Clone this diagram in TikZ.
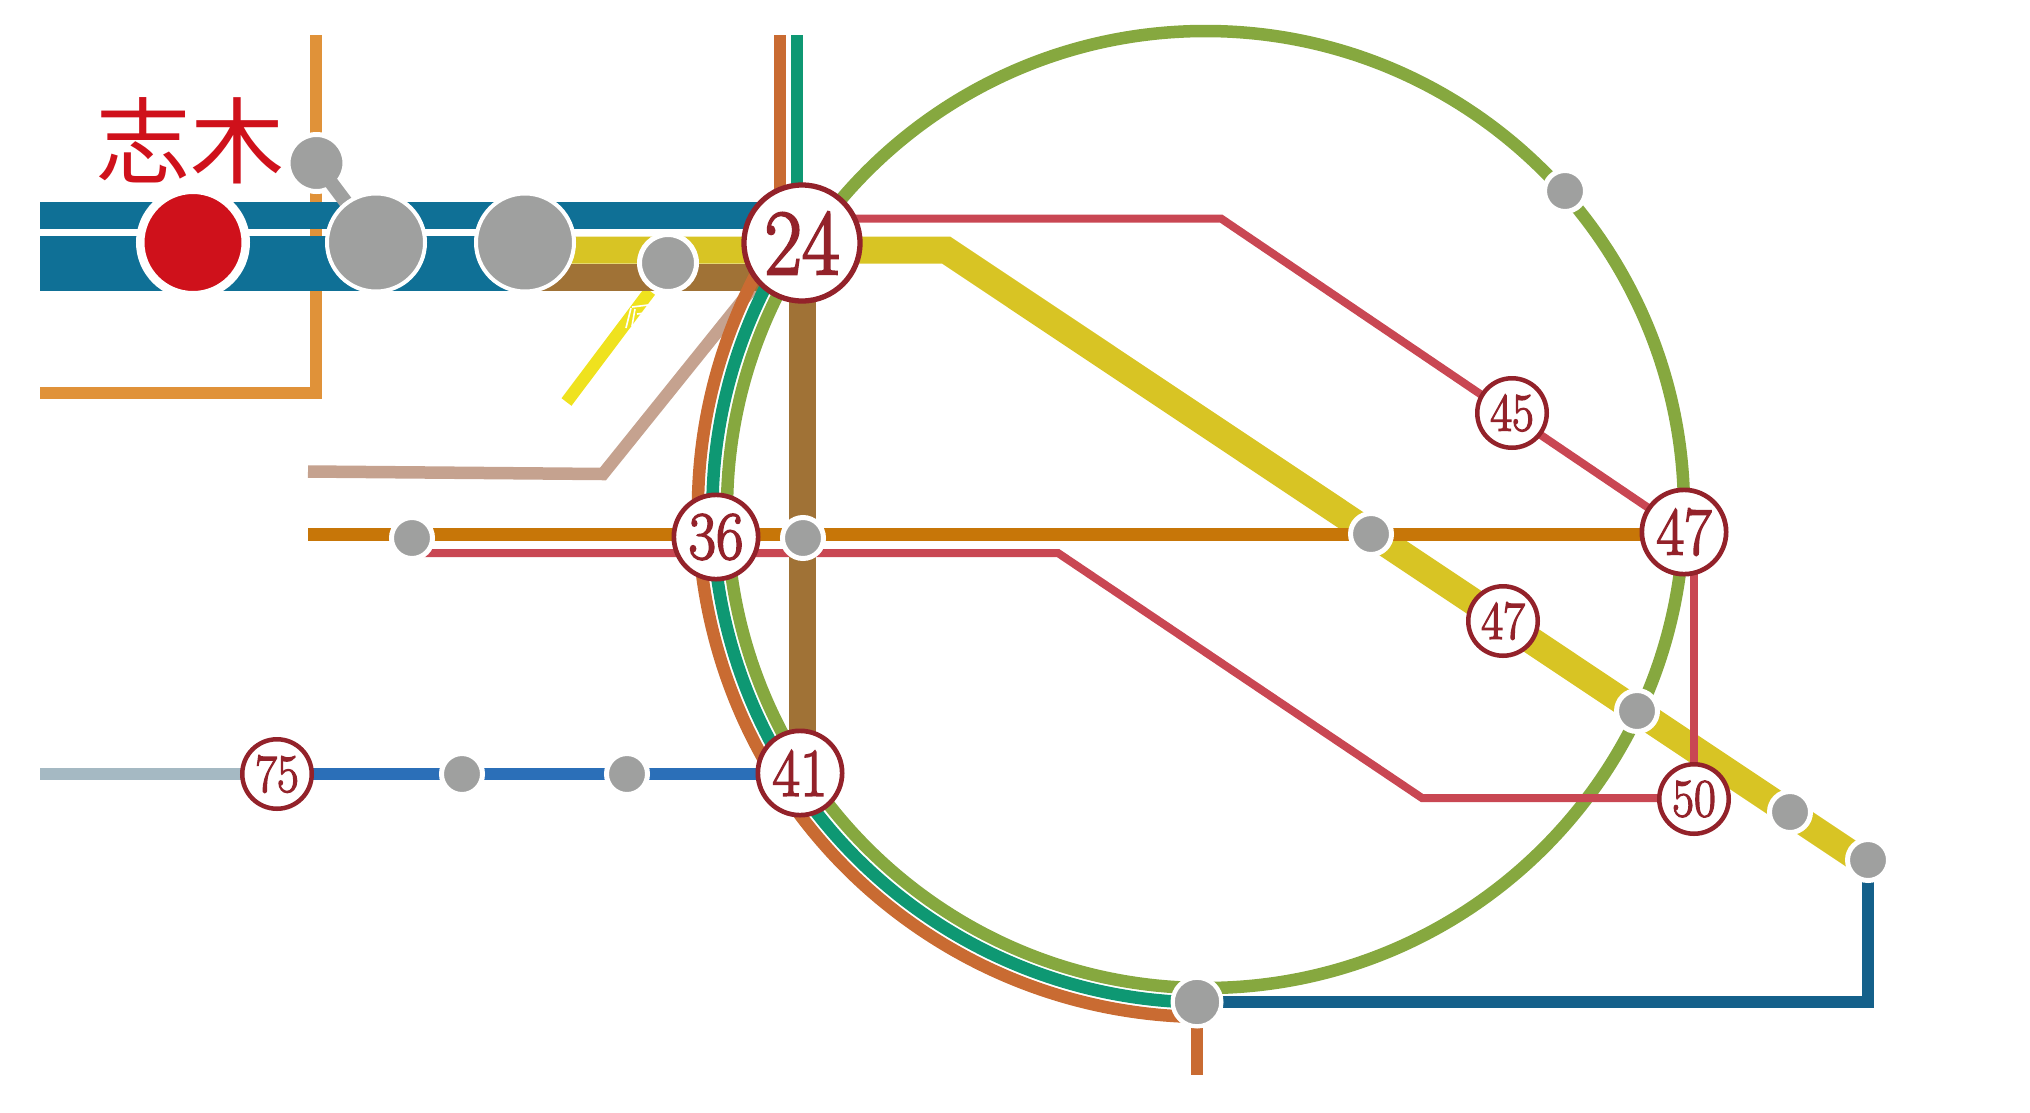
\documentclass[tikz,border=0pt]{standalone}
\usepackage{fontspec}
\newfontfamily\cjk{Noto Sans CJK JP}
\newfontfamily\numf[FakeBold=2.5]{LMRoman8-Regular}
\usetikzlibrary{backgrounds}
\definecolor{bandblue}{HTML}{0F7096}
\definecolor{brownl}{HTML}{A07236}
\definecolor{yellowl}{HTML}{D8C424}
\definecolor{orangel}{HTML}{E09239}
\definecolor{greenl}{HTML}{86A83F}
\definecolor{teall}{HTML}{0E9873}
\definecolor{rustl}{HTML}{C96B32}
\definecolor{pinkl}{HTML}{C94753}
\definecolor{amberl}{HTML}{C77608}
\definecolor{tanl}{HTML}{C5A28F}
\definecolor{brightl}{HTML}{EFE21E}
\definecolor{bluel}{HTML}{2B6FB8}
\definecolor{paleb}{HTML}{A5B9C3}
\definecolor{navyl}{HTML}{14608A}
\definecolor{greyst}{HTML}{9FA09F}
\definecolor{darkred}{HTML}{93222A}
\definecolor{redst}{HTML}{CF111B}
\newcommand{\dg}[1]{\scalebox{0.88}[1]{\numf #1}}
\tikzset{
  x=1pt,y=-1pt,
  stn/.style={circle,inner sep=0pt,outer sep=0pt,fill=greyst,draw=white,line width=5pt,minimum size=41pt},
  stnm/.style={stn,minimum size=57pt},
  stnb/.style={stn,line width=4pt,minimum size=98pt},
  stnbot/.style={stn,line width=4.3pt,minimum size=48.7pt},
  stnred/.style={stn,fill=redst,line width=8.5pt,minimum size=105.5pt},
  num/.style={circle,inner sep=0pt,outer sep=0pt,fill=white,draw=darkred,text=darkred},
  numl/.style={num,line width=5.3pt,minimum size=116pt,font=\fontsize{93}{93}\selectfont},
  numm/.style={num,line width=4.7pt,minimum size=84.3pt,font=\fontsize{68}{68}\selectfont},
  nums/.style={num,line width=4.5pt,minimum size=69.5pt,font=\fontsize{54}{54}\selectfont},
  rail/.style={line width=12.5pt,line cap=butt,line join=miter},
  thin rail/.style={line width=8pt,line cap=butt,line join=miter},
  fat rail/.style={line width=27pt,line cap=butt,line join=miter},
}
\begin{document}
\begin{tikzpicture}
\useasboundingbox (0,0) rectangle (2030,1112);
% stations
\node[stnred] (shiki) at (193,242.5) {};
\node[stnb] (b1) at (376,242.5) {};
\node[stnb] (b2) at (525,242.5) {};
\node[stnm] (m1) at (668,263) {};
\node[numl] (n24) at (802,243) {\dg{24}};
\node[numm] (n36) at (716,537) {\dg{36}};
\node[numm] (n41) at (800,773) {\dg{41}};
\node[numm] (n47a) at (1684,532) {\dg{47}};
\node[nums] (n45) at (1512,413) {\dg{45}};
\node[nums] (n47b) at (1503,621) {\dg{47}};
\node[nums] (n50) at (1694,799) {\dg{50}};
\node[nums] (n75) at (277,774) {\dg{75}};
\node[stn] (g1) at (412,538) {};
\node[stn] (g2) at (803,538) {};
\node[stn] (g3) at (1371,534) {};
\node[stn] (g4) at (1565,191) {};
\node[stn] (g5) at (1637,711) {};
\node[stn] (g6) at (1790,812) {};
\node[stn] (g7) at (1868,860) {};
\node[stn] (g8) at (462,774) {};
\node[stn] (g9) at (627,774) {};
\node[stnbot] (g10) at (1197,1002) {};
\node[text=redst,font=\cjk\fontsize{94}{94}\selectfont,inner sep=0pt,anchor=center] (name) at (190.5,141) {志木};
% free ends and bends
\coordinate (c) at (1205.5,509.5);
\coordinate (oT) at (316,35);
\coordinate (oC) at (316,393);
\coordinate (oL) at (40,393);
\coordinate (bandA) at (40,215);
\coordinate (bandAe) at (770,215);
\coordinate (bandB) at (40,263);
\coordinate (bandBe) at (525,263);
\coordinate (yS) at (525,250);
\coordinate (yB) at (946,250);
\coordinate (yE) at (1868,865);
\coordinate (brS) at (525,277);
\coordinate (brB) at (802,277);
\coordinate (tanL) at (308,471.5);
\coordinate (tanB) at (603,474);
\coordinate (tanE) at (755,285);
\coordinate (brE) at (566.5,402);
\coordinate (brT) at (650,291);
\coordinate (pB1) at (1221,218.5);
\coordinate (pB2) at (1058,553);
\coordinate (pB3) at (1422,798);
\coordinate (amL) at (308,534.5);
\coordinate (palL) at (40,774);
\coordinate (rustT) at (780,35);
\coordinate (tealT) at (797,35);
\coordinate (rustB) at (1197,1075);
\begin{scope}[on background layer]
  \draw[rail,orangel] (oT) -- (oC) -- (oL);
  \draw[line width=27pt,bandblue] (bandA) -- (bandAe);
  \draw[line width=55pt,bandblue] (bandB) -- (bandBe);
  \draw[rail,tanl] (tanL) -- (tanB) -- (tanE);
  \draw[rail,brightl] (brE) -- (brT);
  \draw[white,line width=1.6pt] (631,308) -- (626,328) (635,309) -- (632,326) (632,307) -- (648,305) (637,314) -- (645,313) (637,320) -- (642,319);
  \draw[fat rail,yellowl] (yS) -- (yB) -- (yE);
  \draw[fat rail,brownl] (brS) -- (brB) -- (brB |- n41.center);
  \draw[rail,rustl] (rustT) -- ++(0,240);
  \draw[rail,teall] (tealT) -- ++(0,240);
  \draw[rail,rustl] (c) ++(-148:507.5) arc[start angle=-148,end angle=-268.5,radius=507.5];
  \draw[rail,teall] (c) ++(-148:493) arc[start angle=-148,end angle=-268.5,radius=493];
  \draw[rail,greenl] (c) circle[radius=478.5];
  \draw[rail,rustl] (g10.center) -- (rustB);
  \draw[thin rail,pinkl] (n24.center |- pB1) -- (pB1) -- (n47a.center);
  \draw[thin rail,pinkl] (g1.center |- pB2) -- (pB2) -- (pB3) -- (n50.center |- pB3);
  \draw[thin rail,pinkl] (n50.center) -- (n50.center |- n47a.center);
  \draw[rail,amberl] (amL) -- (amL -| n47a.center);
  \draw[rail,paleb] (palL) -- (n75.center);
  \draw[rail,bluel] (n75.center) -- (n41.center |- n75.center);
  \draw[rail,navyl] (g10.center) -- (g7.center |- g10.center) -- (g7.center);
  \node[stnm] (t1) at (316.5,163) {};
  \draw[rail,greyst,line width=14pt] (t1.center) -- (b1.center);
\end{scope}
\end{tikzpicture}
\end{document}
